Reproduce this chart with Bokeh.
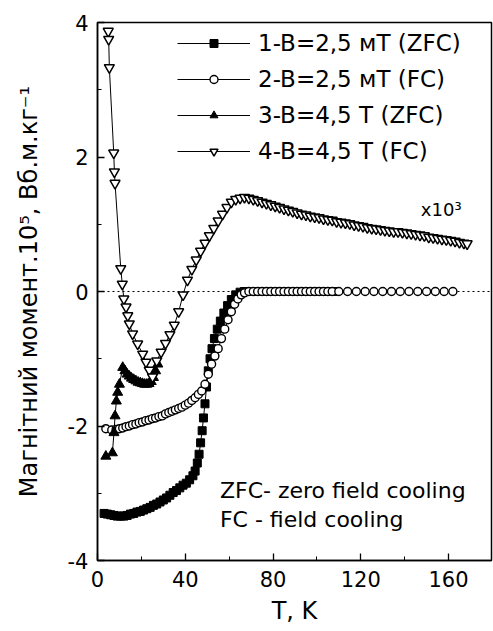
from bokeh.plotting import figure
from bokeh.models import (Range1d, SingleIntervalTicker, Span, Label, Legend, LegendItem,
                          PrintfTickFormatter)
from bokeh.embed import file_html
from bokeh.resources import INLINE

# ---------------- data ----------------
# 1 - B = 2,5 mT (ZFC)
t1 = [3, 4.5, 6, 7.5, 9, 10.5, 12, 13.5, 15, 16.5, 18, 19.5, 21, 22.5, 24, 25.5, 27, 28.5,
      30, 31.5, 33, 34.5, 36, 37.5, 39, 40.5, 42, 43.5,
      44.5, 45.5, 46.3, 47.0, 47.7, 48.3, 49.0, 49.7, 50.5, 51.3, 52.2, 53.3, 54.6, 56.0,
      57.6, 59.3, 61.0, 63.0, 65.0, 67.0, 68.5, 70, 71.5, 73, 74.5, 76, 77.5, 79, 80.5,
      82, 83.5, 85, 86.5, 88, 89.5, 91, 92.5, 94, 95.5, 97, 98.5, 100, 101.5, 103, 104.5,
      106, 107.5]
m1 = [-3.30, -3.31, -3.32, -3.33, -3.34, -3.34, -3.34, -3.33, -3.31, -3.30, -3.28, -3.27,
      -3.25, -3.23, -3.21, -3.18, -3.16, -3.13, -3.10, -3.07, -3.03, -2.99, -2.96, -2.92,
      -2.88, -2.85, -2.80, -2.74,
      -2.67, -2.55, -2.42, -2.25, -2.07, -1.88, -1.67, -1.42, -1.18, -1.00, -0.85, -0.70,
      -0.56, -0.44, -0.32, -0.21, -0.12, -0.05, -0.01, 0.0, 0.0, 0.0, 0.0, 0.0, 0.0, 0.0,
      0.0, 0.0, 0.0, 0.0, 0.0, 0.0, 0.0, 0.0, 0.0, 0.0, 0.0, 0.0, 0.0, 0.0, 0.0, 0.0, 0.0,
      0.0, 0.0, 0.0, 0.0]

# 2 - B = 2,5 mT (FC)
t2 = [3.8, 6.5, 8.5, 10, 11.5, 13, 14.5, 16, 17.5, 19, 20.5, 22, 23.5, 25, 26.5, 28, 29.5,
      31, 32.5, 34, 35.5, 37, 38.5, 40, 41.5, 43, 44.5, 46, 47.5, 49, 50.5, 52, 53.5, 55,
      56.5, 58, 59.5, 61, 62.5, 64, 65.5, 67, 69, 71, 73, 75, 77, 79, 81, 83,
      85, 87, 89, 91, 93, 95, 97, 99, 101, 103, 105, 107, 110, 114, 118, 122, 126, 130,
      134, 138, 142, 146, 150, 154, 158, 162]
m2 = [-2.04, -2.06, -2.05, -2.04, -2.03, -2.01, -2.00, -1.98, -1.97, -1.95, -1.94, -1.92,
      -1.91, -1.89, -1.88, -1.86, -1.85, -1.82, -1.80, -1.78, -1.76, -1.74, -1.72, -1.69,
      -1.66, -1.62, -1.58, -1.53, -1.48, -1.38, -1.23, -1.08, -0.96, -0.85, -0.70, -0.56,
      -0.42, -0.30, -0.19, -0.11, -0.05, -0.02, 0.0, 0.0, 0.0, 0.0, 0.0, 0.0, 0.0, 0.0,
      0.0, 0.0, 0.0, 0.0, 0.0, 0.0, 0.0, 0.0, 0.0, 0.0, 0.0, 0.0, 0.0, 0.0, 0.0, 0.0, 0.0,
      0.0, 0.0, 0.0, 0.0, 0.0, 0.0, 0.0, 0.0, 0.0]

# 3 - B = 4,5 T (ZFC)
t3 = [3.8, 6.8, 7.5, 8.0, 8.6, 9.2, 10.0, 11.5, 12.5, 13.5, 14.5, 15.5, 16.5, 17.5, 18.5,
      19.5, 20.5, 21.5, 22.5, 23.5, 24.5, 25.5, 26.5, 27.5]
m3 = [-2.45, -2.40, -2.10, -1.85, -1.63, -1.50, -1.38, -1.13, -1.18, -1.23, -1.26, -1.29,
      -1.31, -1.33, -1.35, -1.36, -1.37, -1.38, -1.38, -1.37, -1.34, -1.28, -1.18, -1.08]

# 4 - B = 4,5 T (FC)   (plotted x10^3)
t4 = [4.9, 5.1, 5.4, 7.4, 7.7, 8.0, 10.6, 11.3, 12.0, 13.0, 13.8, 14.5, 16.0, 18.3, 20.6,
      22.1, 23.6, 25.1, 27, 29, 31, 33, 35, 37, 39, 41, 43, 45, 47, 49, 51, 53, 55, 57, 59,
      61, 63, 65, 67, 69, 71, 73, 75, 77, 79, 81, 83, 85, 87, 89, 91, 93, 95, 97, 99, 101,
      103, 105, 107, 109, 111, 113, 115, 117, 119, 121, 123, 125, 127, 129, 131, 133, 135,
      137, 139, 141, 143, 145, 147, 149, 151, 153, 155, 157, 159, 161, 163, 165, 167, 168.5]
m4 = [3.87, 3.75, 3.33, 2.06, 1.78, 1.61, 0.34, 0.11, -0.11, -0.23, -0.36, -0.48, -0.63,
      -0.78, -0.93, -1.05, -1.17, -1.27, -1.03, -0.90, -0.77, -0.64, -0.50, -0.30, -0.05,
      0.17, 0.33, 0.47, 0.60, 0.72, 0.83, 0.94, 1.05, 1.15, 1.25, 1.33, 1.37, 1.39, 1.40,
      1.39, 1.37, 1.35, 1.33, 1.31, 1.29, 1.27, 1.25, 1.23, 1.21, 1.19, 1.17, 1.15, 1.14,
      1.12, 1.11, 1.10, 1.08, 1.07, 1.06, 1.04, 1.03, 1.02, 1.01, 0.99, 0.98, 0.97, 0.95,
      0.94, 0.93, 0.92, 0.91, 0.90, 0.89, 0.89, 0.88, 0.87, 0.86, 0.85, 0.84, 0.83, 0.81,
      0.80, 0.79, 0.78, 0.77, 0.76, 0.75, 0.73, 0.72, 0.71]

labels = ["1-B=2,5 мT (ZFC)", "2-B=2,5 мT (FC)", "3-B=4,5 T (ZFC)", "4-B=4,5 T (FC)"]
x_label = "T, K"
y_label = "Магнітний момент.10⁵, Вб.м.кг⁻¹"
x_tick_interval = 40
y_tick_interval = 2

FONT = "DejaVu Sans"

p = figure(width=493, height=631, x_range=Range1d(0, 179.6), y_range=Range1d(-4, 4),
           output_backend="svg", toolbar_location=None,
           min_border_left=97, min_border_right=2, min_border_top=22, min_border_bottom=71)
p.grid.visible = False
p.background_fill_color = "white"
p.border_fill_color = "white"
p.outline_line_color = "black"
p.outline_line_width = 1.5

p.xaxis.ticker = SingleIntervalTicker(interval=x_tick_interval, num_minor_ticks=2)
p.yaxis.ticker = SingleIntervalTicker(interval=y_tick_interval, num_minor_ticks=2)
for ax in (p.xaxis[0], p.yaxis[0]):
    ax.formatter = PrintfTickFormatter(format="%d")
    ax.axis_line_width = 1.5
    ax.axis_line_color = "black"
    ax.major_tick_in = 7
    ax.major_tick_out = 0
    ax.minor_tick_in = 4
    ax.minor_tick_out = 0
    ax.major_tick_line_color = "black"
    ax.minor_tick_line_color = "black"
    ax.major_tick_line_width = 1.3
    ax.major_label_text_font = FONT
    ax.major_label_text_font_size = "21px"
    ax.major_label_text_color = "black"
    ax.axis_label_text_font = FONT
    ax.axis_label_text_font_size = "24px"
    ax.axis_label_text_font_style = "normal"
    ax.axis_label_text_color = "black"

p.xaxis.axis_label = x_label
p.xaxis.major_label_standoff = 10
p.xaxis.axis_label_standoff = 7
p.yaxis.axis_label = y_label
p.yaxis.major_label_standoff = 9
p.yaxis.axis_label_standoff = 22

p.add_layout(Span(location=0, dimension="width", line_dash="2 3", line_color="black",
                  line_width=1.2, level="underlay"))

l1 = p.line(t1, m1, line_color="black", line_width=1)
s1 = p.scatter(t1, m1, marker="square", size=8, fill_color="black", line_color="black")
l2 = p.line(t2, m2, line_color="black", line_width=1)
s2 = p.scatter(t2, m2, marker="circle", size=8, fill_color="white", line_color="black",
               line_width=1.4)
l3 = p.line(t3, m3, line_color="black", line_width=1)
s3 = p.scatter(t3, m3, marker="triangle", size=10, fill_color="black", line_color="black")
l4 = p.line(t4, m4, line_color="black", line_width=1)
s4 = p.scatter(t4, m4, marker="inverted_triangle", size=10, fill_color="white",
               line_color="black", line_width=1.5)

legend = Legend(items=[LegendItem(label=labels[0], renderers=[l1, s1]),
                       LegendItem(label=labels[1], renderers=[l2, s2]),
                       LegendItem(label=labels[2], renderers=[l3, s3]),
                       LegendItem(label=labels[3], renderers=[l4, s4])],
                location=(80, 396), padding=0, margin=0, spacing=10,
                glyph_width=73, glyph_height=20, label_height=20, label_standoff=8,
                border_line_color=None, background_fill_alpha=0,
                label_text_font=FONT, label_text_font_size="23px", label_text_color="black")
p.add_layout(legend)

p.add_layout(Label(x=147.4, y=1.06, text="x10³", text_font=FONT, text_font_size="18px",
                   text_color="black"))
p.add_layout(Label(x=55.8, y=-3.14, text="ZFC- zero field cooling", text_font=FONT,
                   text_font_size="22px", text_color="black"))
p.add_layout(Label(x=55.8, y=-3.58, text="FC - field cooling", text_font=FONT,
                   text_font_size="22px", text_color="black"))

open("out.html", "w").write(file_html(p, INLINE))
